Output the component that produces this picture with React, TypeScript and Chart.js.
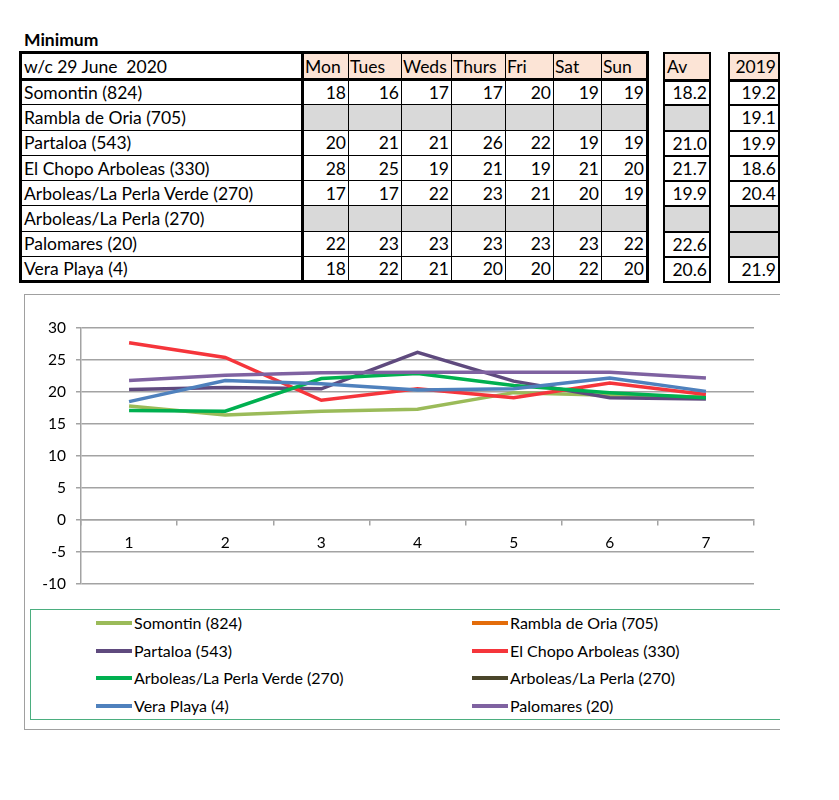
import React, { useEffect, useRef } from "react";
import { Chart, registerables } from "chart.js";
Chart.register(...registerables);

// ---------- data ----------
const title = "Minimum";
const weekLabel = "w/c 29 June  2020";
const days = ["Mon", "Tues", "Weds", "Thurs", "Fri", "Sat", "Sun"];
const avHeader = "Av";
const prevHeader = "2019";
const stations = [
  "Somontin (824)",
  "Rambla de Oria (705)",
  "Partaloa (543)",
  "El Chopo Arboleas (330)",
  "Arboleas/La Perla Verde (270)",
  "Arboleas/La Perla (270)",
  "Palomares (20)",
  "Vera Playa (4)",
];
const tableSomontin = [18, 16, 17, 17, 20, 19, 19];
const tableRambla = [null, null, null, null, null, null, null];
const tablePartaloa = [20, 21, 21, 26, 22, 19, 19];
const tableElChopo = [28, 25, 19, 21, 19, 21, 20];
const tableVerde = [17, 17, 22, 23, 21, 20, 19];
const tableLaPerla = [null, null, null, null, null, null, null];
const tablePalomares = [22, 23, 23, 23, 23, 23, 22];
const tableVera = [18, 22, 21, 20, 20, 22, 20];
const averages = [18.2, null, 21.0, 21.7, 19.9, null, 22.6, 20.6];
const values2019 = [19.2, 19.1, 19.9, 18.6, 20.4, null, null, 21.9];

const xLabels = ["1", "2", "3", "4", "5", "6", "7"];
const yMin = -10;
const yMax = 30;
const yStep = 5;

const seriesNames = [
  "Somontin (824)",
  "Rambla de Oria (705)",
  "Partaloa (543)",
  "El Chopo Arboleas (330)",
  "Arboleas/La Perla Verde (270)",
  "Arboleas/La Perla (270)",
  "Vera Playa (4)",
  "Palomares (20)",
];
const chartSomontin = [17.8, 16.4, 17.0, 17.3, 19.9, 19.5, 19.2];
const chartRambla = [null, null, null, null, null, null, null];
const chartPartaloa = [20.4, 20.7, 20.5, 26.2, 21.7, 19.1, 18.9];
const chartElChopo = [27.7, 25.4, 18.7, 20.5, 19.1, 21.4, 19.6];
const chartVerde = [17.1, 17.0, 22.1, 22.9, 21.0, 19.9, 19.1];
const chartLaPerla = [null, null, null, null, null, null, null];
const chartVera = [18.5, 21.8, 21.3, 20.3, 20.5, 22.2, 20.1];
const chartPalomares = [21.8, 22.6, 23.0, 23.1, 23.1, 23.1, 22.2];
const seriesColors = ["#9BBB59", "#E36C0A", "#5F4A7E", "#F5353B", "#00B050", "#4A452A", "#4F81BD", "#7F62A1"];

const tableRows = [tableSomontin, tableRambla, tablePartaloa, tableElChopo, tableVerde, tableLaPerla, tablePalomares, tableVera];
const chartSeries = [chartSomontin, chartRambla, chartPartaloa, chartElChopo, chartVerde, chartLaPerla, chartVera, chartPalomares];

// ---------- styles ----------
const FONT = "Lato, 'Noto Sans', sans-serif";
const PEACH = "#FCE4D6";
const GRAYCELL = "#D9D9D9";
const GRID = "#A3A3A3";
const colW = [282, 46, 53, 50, 54, 48, 48, 46];
const headerH = 27;
const rowH = 25.3;

function cellBase(extra: React.CSSProperties): React.CSSProperties {
  return {
    padding: "0 2px",
    fontSize: 17.5,
    fontFamily: FONT,
    color: "#000",
    whiteSpace: "pre",
    overflow: "hidden",
    boxSizing: "border-box",
    ...extra,
  };
}

function MainTable() {
  const thin = "1.5px solid #000";
  const thick = "3px solid #000";
  return (
    <table
      style={{
        position: "absolute",
        left: 19,
        top: 51,
        borderCollapse: "collapse",
        tableLayout: "fixed",
        width: colW.reduce((a, b) => a + b, 0),
        border: thick,
      }}
    >
      <colgroup>
        {colW.map((w, i) => (
          <col key={i} style={{ width: w }} />
        ))}
      </colgroup>
      <tbody>
        <tr style={{ height: headerH }}>
          <td style={cellBase({ borderRight: thick, borderBottom: thick, background: "#fff", textAlign: "left" })}>{weekLabel}</td>
          {days.map((d, i) => (
            <td key={d} style={cellBase({ borderRight: i === days.length - 1 ? thick : thin, borderBottom: thick, background: PEACH, textAlign: "left", padding: "0 1px" })}>
              {d}
            </td>
          ))}
        </tr>
        {stations.map((s, r) => (
          <tr key={s} style={{ height: rowH }}>
            <td style={cellBase({ borderRight: thick, borderBottom: thin, textAlign: "left" })}>{s}</td>
            {tableRows[r].map((v, c) => (
              <td
                key={c}
                style={cellBase({
                  borderRight: c === 6 ? thick : thin,
                  borderBottom: thin,
                  textAlign: "right",
                  background: v === null ? GRAYCELL : "#fff",
                })}
              >
                {v === null ? "" : String(v)}
              </td>
            ))}
          </tr>
        ))}
      </tbody>
    </table>
  );
}

function SideTable(props: { left: number; width: number; header: string; headerAlign: "left" | "right"; values: (number | null)[] }) {
  const line = "2px solid #000";
  return (
    <table
      style={{
        position: "absolute",
        left: props.left,
        top: 52,
        borderCollapse: "collapse",
        tableLayout: "fixed",
        width: props.width,
        border: line,
      }}
    >
      <tbody>
        <tr style={{ height: headerH }}>
          <td style={cellBase({ borderBottom: "3px solid #000", background: PEACH, textAlign: props.headerAlign })}>{props.header}</td>
        </tr>
        {props.values.map((v, i) => (
          <tr key={i} style={{ height: rowH }}>
            <td style={cellBase({ borderBottom: line, textAlign: "right", background: v === null ? GRAYCELL : "#fff" })}>
              {v === null ? "" : v.toFixed(1)}
            </td>
          </tr>
        ))}
      </tbody>
    </table>
  );
}

function LineChart() {
  const ref = useRef<HTMLCanvasElement | null>(null);
  useEffect(() => {
    if (!ref.current) return;
    const tickFont = { family: FONT, size: 15.5 };
    const chart = new Chart(ref.current, {
      type: "line",
      data: {
        labels: xLabels,
        datasets: seriesNames.map((name, i) => ({
          label: name,
          data: chartSeries[i],
          borderColor: seriesColors[i],
          backgroundColor: seriesColors[i],
          borderWidth: 3.5,
          pointRadius: 0,
          tension: 0,
          fill: false,
          order: -i,
        })),
      },
      options: {
        animation: false,
        responsive: false,
        devicePixelRatio: 1,
        layout: { padding: { left: 0, right: 26, top: 34, bottom: 20 } },
        plugins: { legend: { display: false }, tooltip: { enabled: false } },
        scales: {
          x: {
            type: "category",
            position: { y: 0 } as any,
            offset: true,
            grid: { offset: true, drawOnChartArea: false, drawTicks: true, tickLength: 5, color: GRID, lineWidth: 1.5 },
            border: { display: true, color: GRID, width: 1.5 },
            ticks: { color: "#000", font: tickFont, padding: 9, maxRotation: 0, autoSkip: false },
          },
          y: {
            type: "linear",
            min: yMin,
            max: yMax,
            ticks: { stepSize: yStep, color: "#000", font: tickFont, padding: 10 },
            grid: { color: GRID, lineWidth: 1.5, tickLength: 5, drawTicks: true },
            border: { display: true, color: GRID, width: 1.5 },
            afterFit: (s: any) => {
              s.width = 57;
            },
          },
        },
      },
    });
    return () => chart.destroy();
  }, []);
  return <canvas ref={ref} width={756} height={310} style={{ position: "absolute", left: 24, top: 294, width: 756, height: 310 }} />;
}

function Legend() {
  return (
    <>
      <div
        style={{
          position: "absolute",
          left: 30,
          top: 609,
          width: 750,
          height: 111,
          borderTop: "1.5px solid #4BAE7F",
          borderLeft: "1.5px solid #4BAE7F",
          borderBottom: "1.5px solid #4BAE7F",
          boxSizing: "border-box",
        }}
      />
      {seriesNames.map((name, i) => {
        const col = i % 2;
        const row = Math.floor(i / 2);
        const sx = col === 0 ? 96 : 472;
        const cy = 623 + row * 27.7;
        return (
          <React.Fragment key={name}>
            <div style={{ position: "absolute", left: sx, top: cy - 2, width: 36, height: 4, background: seriesColors[i] }} />
            <div
              style={{
                position: "absolute",
                left: sx + 38,
                top: cy - 11,
                height: 22,
                lineHeight: "22px",
                fontFamily: FONT,
                fontSize: 16,
                color: "#000",
                whiteSpace: "pre",
              }}
            >
              {name}
            </div>
          </React.Fragment>
        );
      })}
    </>
  );
}

export default function App() {
  return (
    <div style={{ position: "absolute", left: 0, top: 0, width: 839, height: 800, background: "#fff", fontFamily: FONT }}>
      <div style={{ position: "absolute", left: 24, top: 29, fontFamily: FONT, fontWeight: 700, fontSize: 17.5, lineHeight: "22px", color: "#000" }}>{title}</div>
      <MainTable />
      <SideTable left={663} width={48} header={avHeader} headerAlign="left" values={averages} />
      <SideTable left={728} width={52} header={prevHeader} headerAlign="right" values={values2019} />
      <div
        style={{
          position: "absolute",
          left: 24,
          top: 294,
          width: 756,
          height: 436,
          borderLeft: "1.5px solid #A0A0A0",
          borderTop: "1.5px solid #A0A0A0",
          borderBottom: "1.5px solid #A0A0A0",
          boxSizing: "border-box",
        }}
      />
      <LineChart />
      <Legend />
    </div>
  );
}
